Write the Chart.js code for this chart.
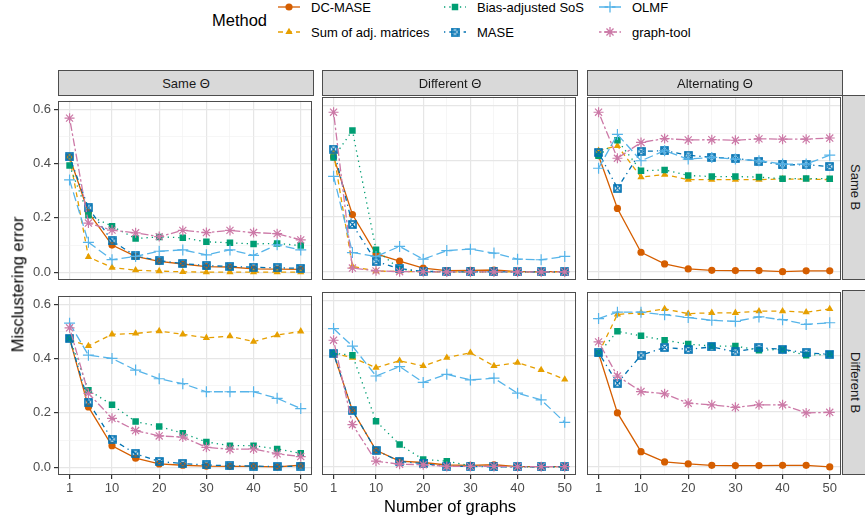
<!DOCTYPE html>
<html>
<head>
<meta charset="utf-8">
<title>Misclustering error</title>
<script src="https://cdn.jsdelivr.net/npm/chart.js@4.4.1/dist/chart.umd.min.js"></script>
<style>
  body { margin: 0; background: #fff; font-family: "Liberation Sans", Arial, sans-serif; }
  #wrap { position: relative; width: 865px; height: 520px; overflow: hidden; }
  canvas.panel { position: absolute; }
  .strip { position: absolute; background: #d9d9d9; border: 1px solid #4d4d4d; box-sizing: border-box;
           color: #1a1a1a; font-size: 13px; display: flex; align-items: center; justify-content: center; }
  .strip.side { writing-mode: vertical-rl; }
  .title { position: absolute; font-size: 16.5px; color: #000; white-space: nowrap; }
  .leg { position: absolute; font-size: 13px; color: #000; white-space: nowrap; }
  .key { position: absolute; }
</style>
</head>
<body>
<div id="wrap"></div>
<script>
// x values (number of graphs) and tick labels
var xGraphs = [1, 5, 10, 15, 20, 25, 30, 35, 40, 45, 50];
var xMajor = [1, 10, 20, 30, 40, 50];
var xGrid = [1, 5.5, 10, 15, 20, 25, 30, 35, 40, 45, 50];
var yGrid = [0, 0.1, 0.2, 0.3, 0.4, 0.5, 0.6];

var colLabels = ['Same \u0398', 'Different \u0398', 'Alternating \u0398'];
var rowLabels = ['Same B', 'Different B'];
var methods = ['DC-MASE', 'Sum of adj. matrices', 'Bias-adjusted SoS', 'MASE', 'OLMF', 'graph-tool'];

// one row per panel: SameT/SameB, DiffT/SameB, AltT/SameB, SameT/DiffB, DiffT/DiffB, AltT/DiffB
var dcMase = [
  [0.425, 0.22, 0.10, 0.058, 0.04, 0.03, 0.02, 0.019, 0.012, 0.011, 0.01],
  [0.415, 0.207, 0.065, 0.039, 0.014, 0.005, 0.006, 0.007, 0.001, 0.001, 0.001],
  [0.419, 0.229, 0.071, 0.029, 0.011, 0.006, 0.005, 0.005, 0.001, 0.004, 0.004],
  [0.475, 0.222, 0.079, 0.033, 0.012, 0.007, 0.004, 0.003, 0.003, 0.001, 0.007],
  [0.409, 0.204, 0.06, 0.021, 0.016, 0.007, 0.006, 0.008, 0.001, 0.001, 0.001],
  [0.41, 0.195, 0.055, 0.018, 0.011, 0.006, 0.005, 0.005, 0.006, 0.006, 0.0]
];
var sumAdj = [
  [0.425, 0.056, 0.017, 0.007, 0.004, 0.001, 0, 0, 0, 0, 0],
  [0.43, 0.02, 0.003, 0.002, 0.001, 0, 0, 0, 0, 0, 0],
  [0.437, 0.455, 0.342, 0.351, 0.333, 0.333, 0.333, 0.333, 0.335, 0.335, 0.333],
  [0.47, 0.447, 0.49, 0.493, 0.502, 0.49, 0.477, 0.483, 0.463, 0.487, 0.501],
  [0.41, 0.394, 0.358, 0.383, 0.364, 0.394, 0.412, 0.364, 0.376, 0.35, 0.316],
  [0.41, 0.55, 0.556, 0.57, 0.553, 0.556, 0.556, 0.562, 0.562, 0.558, 0.57]
];
var biasSoS = [
  [0.393, 0.21, 0.169, 0.124, 0.13, 0.127, 0.112, 0.108, 0.104, 0.106, 0.098],
  [0.413, 0.51, 0.08, 0.01, 0.002, 0.001, 0, 0, 0, 0, 0],
  [0.419, 0.475, 0.365, 0.368, 0.348, 0.344, 0.344, 0.342, 0.336, 0.337, 0.336],
  [0.475, 0.284, 0.23, 0.168, 0.15, 0.125, 0.093, 0.079, 0.079, 0.067, 0.051],
  [0.41, 0.403, 0.165, 0.081, 0.027, 0.021, 0.004, 0.001, 0, 0, 0],
  [0.41, 0.489, 0.473, 0.457, 0.443, 0.436, 0.436, 0.421, 0.424, 0.403, 0.406]
];
var mase = [
  [0.425, 0.237, 0.115, 0.06, 0.042, 0.032, 0.024, 0.021, 0.018, 0.016, 0.014],
  [0.443, 0.171, 0.038, 0.012, 0.002, 0.001, 0, 0, 0, 0, 0],
  [0.431, 0.302, 0.435, 0.437, 0.421, 0.413, 0.41, 0.399, 0.386, 0.387, 0.38],
  [0.475, 0.24, 0.103, 0.049, 0.021, 0.013, 0.008, 0.005, 0.004, 0.002, 0.004],
  [0.409, 0.204, 0.06, 0.02, 0.012, 0.002, 0.002, 0, 0, 0, 0],
  [0.412, 0.302, 0.403, 0.431, 0.424, 0.433, 0.415, 0.43, 0.424, 0.412, 0.406]
];
var olmf = [
  [0.34, 0.11, 0.046, 0.058, 0.077, 0.082, 0.064, 0.082, 0.062, 0.101, 0.082],
  [0.345, 0.07, 0.056, 0.092, 0.046, 0.077, 0.082, 0.068, 0.046, 0.044, 0.056],
  [0.374, 0.496, 0.401, 0.437, 0.407, 0.413, 0.407, 0.401, 0.389, 0.389, 0.421],
  [0.531, 0.413, 0.401, 0.358, 0.326, 0.308, 0.278, 0.278, 0.278, 0.254, 0.216],
  [0.499, 0.436, 0.328, 0.362, 0.305, 0.334, 0.314, 0.32, 0.266, 0.242, 0.161],
  [0.535, 0.558, 0.558, 0.549, 0.539, 0.529, 0.525, 0.541, 0.531, 0.514, 0.52]
];
var graphTool = [
  [0.568, 0.181, 0.155, 0.145, 0.131, 0.154, 0.146, 0.154, 0.146, 0.142, 0.119],
  [0.576, 0.014, 0.004, 0.001, 0.001, 0, 0, 0, 0, 0, 0],
  [0.576, 0.41, 0.467, 0.481, 0.476, 0.477, 0.475, 0.48, 0.479, 0.479, 0.483],
  [0.514, 0.272, 0.18, 0.135, 0.115, 0.111, 0.073, 0.066, 0.067, 0.049, 0.039],
  [0.457, 0.153, 0.021, 0.01, 0.008, 0.002, 0.002, 0.002, 0.001, 0.001, 0.001],
  [0.451, 0.328, 0.272, 0.264, 0.23, 0.224, 0.215, 0.224, 0.224, 0.195, 0.197]
];
var series = [dcMase, sumAdj, biasSoS, mase, olmf, graphTool];

// boxed x marker for MASE
function boxCross(size) {
  var c = document.createElement('canvas');
  c.width = size; c.height = size;
  var g = c.getContext('2d');
  g.strokeStyle = '#0072B2';
  g.lineWidth = 1.6;
  g.strokeRect(1, 1, size - 2, size - 2);
  g.lineWidth = 1.1;
  g.beginPath();
  g.moveTo(1, 1); g.lineTo(size - 1, size - 1);
  g.moveTo(size - 1, 1); g.lineTo(1, size - 1);
  g.stroke();
  return c;
}

var styles = [
  { color: '#D55E00', dash: [], point: 'circle', radius: 3.6 },
  { color: '#E69F00', dash: [5, 4], point: 'triangle', radius: 4.2 },
  { color: '#009E73', dash: [1.3, 4], point: 'rect', radius: 4.6 },
  { color: '#0072B2', dash: [1.3, 4, 5, 4], point: boxCross(9), radius: 4.5 },
  { color: '#56B4E9', dash: [9, 4], point: 'cross', radius: 5.5 },
  { color: '#CC79A7', dash: [2.5, 2.5, 8, 2.5], point: 'star', radius: 5 }
];

var colLeft = [58, 322, 587];
var rowTop = [95, 290];
var PW = 256, PH = 185;
var AXW = 45, AXH = 25;

var wrap = document.getElementById('wrap');

var frame = {
  id: 'frame',
  afterDatasetsDraw: function(chart) {
    var a = chart.chartArea, g = chart.ctx;
    g.save();
    g.strokeStyle = '#4d4d4d';
    g.lineWidth = 1;
    g.strokeRect(Math.round(a.left) + 0.5, Math.round(a.top) + 0.5, Math.round(a.right - a.left) - 1, Math.round(a.bottom - a.top) - 1);
    g.restore();
  }
};

function isMajorX(v) { return xMajor.indexOf(v) >= 0; }
function isMajorY(v) { return Math.round(v * 10) % 2 === 0; }

function makePanel(idx) {
  var row = Math.floor(idx / 3), col = idx % 3;
  var cv = document.createElement('canvas');
  cv.className = 'panel';
  cv.width = PW + AXW + 5; cv.height = PH + AXH + 5;
  cv.style.width = cv.width + 'px'; cv.style.height = cv.height + 'px';
  cv.style.left = (colLeft[col] - AXW) + 'px';
  cv.style.top = (rowTop[row] - 5) + 'px';
  wrap.appendChild(cv);

  var datasets = methods.map(function(m, i) {
    var s = styles[i];
    return {
      label: m,
      data: xGraphs.map(function(x, j) { return { x: x, y: series[i][idx][j] }; }),
      borderColor: s.color,
      backgroundColor: s.color,
      borderWidth: 1.3,
      borderDash: s.dash,
      pointStyle: s.point,
      pointRadius: s.radius,
      pointBorderWidth: (s.point === 'cross' || s.point === 'star') ? 1.2 : 0,
      pointBackgroundColor: s.color,
      pointBorderColor: s.color,
      tension: 0,
      order: methods.length - i
    };
  });

  new Chart(cv, {
    type: 'line',
    data: { datasets: datasets },
    options: {
      responsive: false,
      animation: false,
      layout: { padding: { top: 5, right: 5, left: 0, bottom: 0 } },
      plugins: { legend: { display: false }, tooltip: { enabled: false } },
      scales: {
        x: {
          type: 'linear', min: -1.45, max: 52.45,
          afterBuildTicks: function(s) { s.ticks = xGrid.map(function(v) { return { value: v }; }); },
          afterFit: function(s) { s.height = AXH; },
          border: { display: false },
          grid: {
            drawTicks: row === 1, tickLength: 4,
            color: function(c) { return isMajorX(c.tick.value) ? '#e6e6e6' : '#f0f0f0'; },
            lineWidth: function(c) { return isMajorX(c.tick.value) ? 1.2 : 0.6; },
            tickColor: function(c) { return isMajorX(c.tick.value) ? '#333' : 'rgba(0,0,0,0)'; }
          },
          ticks: {
            display: row === 1, autoSkip: false, maxRotation: 0, padding: 2,
            color: '#4d4d4d', font: { family: 'Liberation Sans', size: 13 },
            callback: function(v) { return isMajorX(v) ? String(v) : ''; }
          }
        },
        y: {
          min: -0.029, max: 0.632,
          afterBuildTicks: function(s) { s.ticks = yGrid.map(function(v) { return { value: v }; }); },
          afterFit: function(s) { s.width = AXW; },
          border: { display: false },
          grid: {
            drawTicks: col === 0, tickLength: 4,
            color: function(c) { return isMajorY(c.tick.value) ? '#e6e6e6' : '#f0f0f0'; },
            lineWidth: function(c) { return isMajorY(c.tick.value) ? 1.2 : 0.6; },
            tickColor: function(c) { return isMajorY(c.tick.value) ? '#333' : 'rgba(0,0,0,0)'; }
          },
          ticks: {
            display: col === 0, padding: 3,
            color: '#4d4d4d', font: { family: 'Liberation Sans', size: 13 },
            callback: function(v) { return isMajorY(v) ? v.toFixed(1) : ''; }
          }
        }
      }
    },
    plugins: [frame]
  });
}

for (var p = 0; p < 6; p++) makePanel(p);

// strips
colLabels.forEach(function(t, c) {
  var d = document.createElement('div');
  d.className = 'strip';
  d.style.left = colLeft[c] + 'px'; d.style.top = '70px';
  d.style.width = PW + 'px'; d.style.height = '26px';
  d.textContent = t;
  wrap.appendChild(d);
});
rowLabels.forEach(function(t, r) {
  var d = document.createElement('div');
  d.className = 'strip side';
  d.style.left = (colLeft[2] + PW - 1) + 'px'; d.style.top = rowTop[r] + 'px';
  d.style.width = '26px'; d.style.height = PH + 'px';
  d.textContent = t;
  wrap.appendChild(d);
});

// axis titles
var xt = document.createElement('div');
xt.className = 'title';
xt.textContent = 'Number of graphs';
wrap.appendChild(xt);
xt.style.left = (450 - xt.offsetWidth / 2) + 'px';
xt.style.top = '497px';

var yt = document.createElement('div');
yt.className = 'title';
yt.textContent = 'Misclustering error';
wrap.appendChild(yt);
yt.style.left = (18 - yt.offsetWidth / 2) + 'px';
yt.style.top = (284 - yt.offsetHeight / 2) + 'px';
yt.style.transform = 'rotate(-90deg)';

// legend
var lt = document.createElement('div');
lt.className = 'title';
lt.textContent = 'Method';
lt.style.left = '212px'; lt.style.top = '11px';
wrap.appendChild(lt);

var legKeyX = [289, 455, 610];
var legRowY = [7, 32];
methods.forEach(function(m, i) {
  var col = Math.floor(i / 2), row = i % 2;
  var s = styles[i];
  var k = document.createElement('canvas');
  k.className = 'key';
  k.width = 22; k.height = 16;
  k.style.left = (legKeyX[col] - 11) + 'px';
  k.style.top = (legRowY[row] - 8) + 'px';
  wrap.appendChild(k);
  var g = k.getContext('2d');
  g.strokeStyle = s.color; g.fillStyle = s.color; g.lineWidth = 1.3;
  g.setLineDash(s.dash);
  g.beginPath(); g.moveTo(0, 8); g.lineTo(22, 8); g.stroke();
  g.setLineDash([]);
  Chart.helpers.drawPoint(g, {
    pointStyle: s.point, radius: s.radius, rotation: 0,
    borderWidth: (s.point === 'cross' || s.point === 'star') ? 1.2 : 0
  }, 11, 8);
  if (s.point === 'circle' || s.point === 'triangle' || s.point === 'rect') { /* filled by drawPoint */ }

  var l = document.createElement('div');
  l.className = 'leg';
  l.textContent = m;
  l.style.left = (legKeyX[col] + 22) + 'px';
  wrap.appendChild(l);
  l.style.top = (legRowY[row] - l.offsetHeight / 2) + 'px';
});
</script>
</body>
</html>
